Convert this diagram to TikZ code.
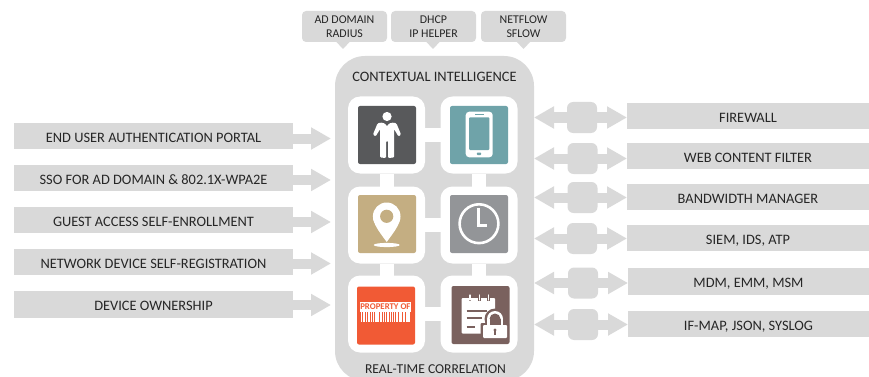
\documentclass[tikz,border=0pt]{standalone}
\usepackage{fontspec}
\setmainfont{Carlito}
\usetikzlibrary{arrows.meta}
\definecolor{panelgrey}{HTML}{D9D9D9}
\definecolor{inktext}{HTML}{262626}
\definecolor{icdark}{HTML}{58595B}
\definecolor{icteal}{HTML}{6FA3A9}
\definecolor{ictan}{HTML}{C4AE82}
\definecolor{icgrey}{HTML}{939598}
\definecolor{icorange}{HTML}{F15A35}
\definecolor{icbrown}{HTML}{7A615E}
\tikzset{
  sized/.style 2 args={minimum width=#1pt,minimum height=#2pt,inner sep=0pt,outer sep=0pt},
  bar/.style={sized={#1}{26.5},text height=12pt,text depth=0pt,fill=panelgrey,text=inktext,font=\fontsize{14.4}{16}\selectfont},
  bar/.default=279,
  callout/.style={sized={85}{31},fill=panelgrey,rounded corners=4pt,text=inktext,align=center,font=\fontsize{11.9}{14.3}\selectfont},
  panellabel/.style={inner sep=0pt,text=inktext,font=\fontsize{14.4}{16}\selectfont},
  whitebox/.style={sized={77}{77},fill=white,rounded corners=12pt},
  iconbox/.style={sized={58}{58},rounded corners=2pt},
  hub/.style={sized={30}{31},fill=panelgrey,rounded corners=6pt},
  blockarrow/.style={draw=panelgrey,line width=10pt,-{Triangle[length=20pt,width=21pt]}},
  link/.style={draw=white,line width=14pt},
  icon/.style={fill=white,draw=none},
}
\begin{document}
\begin{tikzpicture}[x=1pt,y=-1pt]
\useasboundingbox (0,0) rectangle (869,377);
\clip (0,0) rectangle (869,377);

% central panel
\node[sized={199}{325},fill=panelgrey,rounded corners=30pt] (panel) at (434.5,218.5) {};
\node[panellabel] (ctx) at (434.5,77) {CONTEXTUAL INTELLIGENCE};
\node[panellabel,font=\fontsize{13.6}{16}\selectfont] (rtc) at (435.5,369.5) {REAL-TIME CORRELATION};

% top callouts
\node[callout] (c1) at (344.5,26.5) {AD DOMAIN\\RADIUS};
\node[callout] (c2) at (433.5,26.5) {DHCP\\IP HELPER};
\node[callout] (c3) at (523.5,26.5) {NETFLOW\\SFLOW};
\foreach \c/\s in {c1/-1.5,c2/-0.5,c3/0}{
  \fill[panelgrey] ([xshift=\s pt-7.5pt,yshift=1pt]\c.south) -- ([xshift=\s pt+7.5pt,yshift=1pt]\c.south) -- ([xshift=\s pt,yshift=-7pt]\c.south) -- cycle;
}

% white tiles
\node[whitebox] (w1) at (386.5,135) {};
\node[whitebox] (w2) at (479,135) {};
\node[whitebox] (w3) at (386.5,225) {};
\node[whitebox] (w4) at (479,225) {};
\node[whitebox] (w5) at (386.5,314) {};
\node[whitebox] (w6) at (479,314) {};
\draw[link] (w1) -- (w2);
\draw[link] (w3) -- (w4);
\draw[link] (w5) -- (w6);
\draw[link] (w1) -- (w3);
\draw[link] (w3) -- (w5);
\draw[link] (w2) -- (w4);
\draw[link] (w4) -- (w6);

% icon squares
\node[iconbox,fill=icdark] (i1) at (387,135) {};
\node[iconbox,fill=icteal] (i2) at (479,135) {};
\node[iconbox,fill=ictan] (i3) at (387,224) {};
\node[iconbox,fill=icgrey] (i4) at (479,224) {};
\node[iconbox,fill=icorange] (i5) at (386,315.5) {};
\node[iconbox,fill=icbrown] (i6) at (480.5,315) {};

% person
\fill[icon] (387,116.5) circle (4.6);
\fill[icon,rounded corners=1pt] (380.5,122.5) -- (385,123.5) -- (387,126.5) -- (389,123.5) -- (393.5,122.5) -- (396.5,123.5) -- (401,134.5) -- (398.5,136.5) -- (394,129) -- (394,157.5) -- (388,158) -- (388,141) -- (386,141) -- (386,158) -- (380.2,157.5) -- (380.2,129) -- (375.5,136.5) -- (373,134.5) -- (377.5,123.5) -- cycle;

% phone
\fill[icon,rounded corners=3.5pt] (465.7,111.7) rectangle (492.7,157.3);
\fill[icteal,rounded corners=1pt] (469,117.3) rectangle (489.3,150);
\fill[icteal] (474.5,113.9) rectangle (484,115.1);
\fill[icteal,rounded corners=0.8pt] (476.8,152.5) rectangle (481.2,155);

% map pin
\fill[icon] (386.7,216.3) circle (13.8);
\fill[icon] (373.2,219) .. controls (375,227) and (381,234) .. (386.7,242) .. controls (392.4,234) and (398.4,227) .. (400.2,219) -- cycle;
\fill[ictan] (386.7,216.3) circle (6.6);
\fill[icon] (386.7,245) ellipse [x radius=13,y radius=2.1];

% clock
\draw[white,line width=2.6pt] (479,223.7) circle (19.4);
\draw[white,line width=2.6pt,line join=miter] (478.2,208) -- (478.2,225.2) -- (487,225.2);

% property tag
\fill[icon] (360,301.7) rectangle (410.7,312.3);
\node[inner sep=0pt,text=icorange,font=\bfseries\fontsize{8.8}{9}\selectfont] (tag) at (385.4,307) {PROPERTY OF};
\foreach \x/\w in {360.5/1,362.5/.6,364/1.3,366.2/.6,367.6/.6,369/1.4,371.3/.6,372.8/1,374.6/.6,376/1.6,378.4/.6,379.8/.6,381.2/1.2,383.2/.6,384.8/1.5,387/.6,388.4/1,390.2/.6,391.6/1.6,394/.6,395.5/.6,397/1.2,399/.6,400.4/1.4,402.6/.6,404/1,405.8/.6,407.2/1.4,409.4/.8}{
  \fill[icon] (\x,312) rectangle (\x+\w,322.3);
}

% notepad with lock
\fill[icon,rounded corners=1pt] (461.5,298) rectangle (495,333.5);
\foreach \x in {470,479.3,488.3}{
  \draw[icbrown,line width=2.8pt] (\x,294.5) -- (\x,300.5);
  \draw[white,line width=1.1pt,line cap=round] (\x,295) -- (\x,300);
}
\foreach \y/\xa in {310.7/487,318.3/482,326.7/475}{
  \draw[icbrown,line width=2.2pt] (466.7,\y) -- (\xa,\y);
}
\fill[icbrown,rounded corners=1pt] (480.5,323) rectangle (509,340);
\fill[icbrown] (495,319) circle (10.5);
\fill[icon] (495,319) circle (8);
\fill[icbrown] (495,319) circle (5.5);
\fill[icbrown] (489.5,319) rectangle (500.5,325);
\fill[icon,rounded corners=1pt] (483,325) rectangle (507,338);
\fill[icon] (487,319) rectangle (489.5,325);
\fill[icon] (500.5,319) rectangle (503,325);
\fill[icbrown] (495,330) circle (1.7);
\fill[icbrown] (494.2,330) rectangle (495.8,335);

% left bars
\node[bar] (l1) at (153.5,136) {END USER AUTHENTICATION PORTAL};
\node[bar] (l2) at (153.5,178) {SSO FOR AD DOMAIN \& 802.1X-WPA2E};
\node[bar] (l3) at (153.5,220) {GUEST ACCESS SELF-ENROLLMENT};
\node[bar] (l4) at (153.5,262) {NETWORK DEVICE SELF-REGISTRATION};
\node[bar] (l5) at (153.5,304.5) {DEVICE OWNERSHIP};
\foreach \n/\y in {l1/138.5,l2/180,l3/222,l4/263.5,l5/305}{
  \coordinate (tip) at (331,\y);
  \draw[blockarrow] (\n.east |- tip) -- (tip);
}

% right bars
\node[bar=242] (r1) at (748,116) {FIREWALL};
\node[bar=242] (r2) at (748,156) {WEB CONTENT FILTER};
\node[bar=242] (r3) at (748,197) {BANDWIDTH MANAGER};
\node[bar=242] (r4) at (748,238) {SIEM, IDS, ATP};
\node[bar=241] (r5) at (748.5,281.5) {MDM, EMM, MSM};
\node[bar=241] (r6) at (748.5,324) {IF-MAP, JSON, SYSLOG};

% hubs and double arrows
\node[hub] (h1) at (582,117.5) {};
\node[hub] (h2) at (582.5,158.5) {};
\node[hub] (h3) at (582.5,197.5) {};
\node[hub] (h4) at (582,238.5) {};
\node[hub] (h5) at (583,283) {};
\node[hub] (h6) at (583,324.5) {};
\foreach \h/\r in {h1/r1,h2/r2,h3/r3,h4/r4,h5/r5,h6/r6}{
  \draw[blockarrow] (\h.center) -- (\h.center -| \r.west);
  \draw[blockarrow] (\h.center) -- (\h.center -| panel.east);
}
\end{tikzpicture}
\end{document}
